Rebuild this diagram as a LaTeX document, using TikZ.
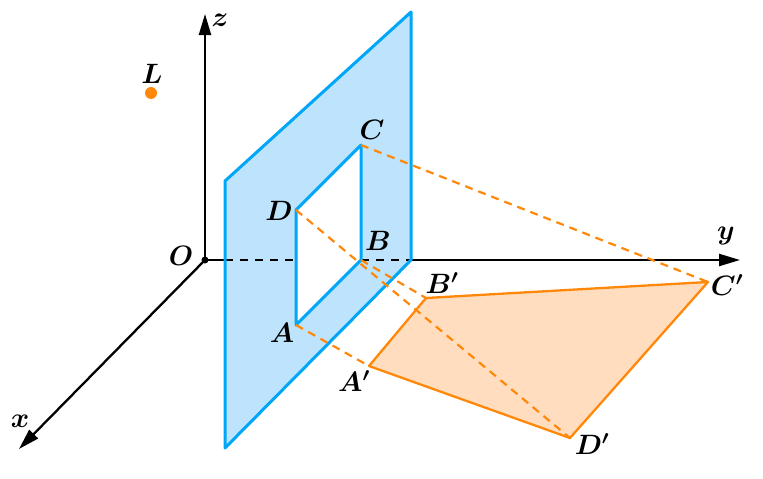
\RequirePackage{fix-cm}
\documentclass[tikz,border=0pt]{standalone}
\usepackage{amsmath,bm}
\usetikzlibrary{arrows.meta}
\definecolor{pblue}{RGB}{0,166,248}
\definecolor{pfill}{RGB}{190,228,253}
\definecolor{porange}{RGB}{255,136,10}
\definecolor{pofill}{RGB}{255,221,190}
\tikzset{
  axis/.style={line width=2.3pt,black,-{Triangle[length=21pt,width=12pt]}},
  hidden/.style={line width=2.3pt,black,dash pattern=on 8pt off 7pt},
  panel/.style={line width=3pt,pblue,line join=round},
  proj/.style={line width=2.2pt,porange,dash pattern=on 8pt off 6pt},
  shadow/.style={line width=2.3pt,porange,fill=pofill,line join=round},
  lab/.style={inner sep=0pt,font=\fontsize{28}{30}\selectfont}
}
\begin{document}
\begin{tikzpicture}[x=1pt,y=-1pt]
\useasboundingbox (0,0) rectangle (763,479);
% coordinates
\coordinate (O) at (205,260);
\coordinate (Zend) at (205,14);
\coordinate (Yend) at (740,260);
\coordinate (Xend) at (19,449);
\coordinate (P1) at (225,181);
\coordinate (P2) at (411,12);
\coordinate (P3) at (411,260);
\coordinate (P4) at (225,448);
\coordinate (Pl) at (225,260);
\coordinate (A) at (296,325);
\coordinate (B) at (361,260);
\coordinate (C) at (361,145);
\coordinate (D) at (296,210);
\coordinate (A1) at (369,366);
\coordinate (B1) at (426,298);
\coordinate (C1) at (708,282);
\coordinate (D1) at (570,438);
% panel
\fill[pfill,even odd rule] (P1)--(P2)--(P3)--(P4)--cycle (A)--(B)--(C)--(D)--cycle;
% axes
\draw[axis] (O)--(Zend);
\draw[axis] (P3)--(Yend);
\draw[axis] (O)--(Xend);
\draw[line width=2.3pt] (O)--(Pl);
% hidden axis
\draw[hidden] (Pl)--(296,260);
\draw[hidden] (B)--(P3);
% shadow
\draw[shadow] (A1)--(B1)--(C1)--(D1)--cycle;
% panel outlines
\draw[panel] (P1)--(P2)--(P3)--(P4)--cycle;
\draw[panel] (A)--(B)--(C)--(D)--cycle;
% projections
\draw[proj] (A)--(A1);
\draw[proj] (B)--(B1);
\draw[proj] (C)--(C1);
\draw[proj] (D)--(D1);
% points
\fill (O) circle (3.5pt);
\node[circle,fill=porange,inner sep=0pt,minimum size=12pt] (Ldot) at (151,93) {};
% labels
\node[lab] (lL) at (152,74) {$\bm{L}$};
\node[lab] (lz) at (220,20) {$\bm{z}$};
\node[lab] (ly) at (726,236) {$\bm{y}$};
\node[lab] (lx) at (20,421) {$\bm{x}$};
\node[lab] (lO) at (181,256) {$\bm{O}$};
\node[lab] (lA) at (282,333) {$\bm{A}$};
\node[lab] (lB) at (378,241) {$\bm{B}$};
\node[lab] (lC) at (372,130) {$\bm{C}$};
\node[lab] (lD) at (279,211) {$\bm{D}$};
\node[lab] (lA1) at (354,381) {$\bm{A'}$};
\node[lab] (lB1) at (442,283) {$\bm{B'}$};
\node[lab] (lC1) at (727,285) {$\bm{C'}$};
\node[lab] (lD1) at (592,444) {$\bm{D'}$};
\end{tikzpicture}
\end{document}
